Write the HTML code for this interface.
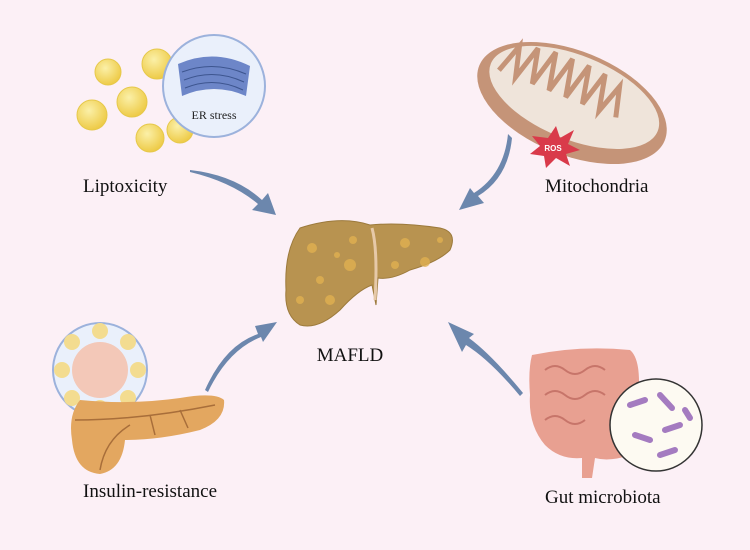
<!DOCTYPE html>
<html><head><style>body{margin:0;background:#fcf0f6}svg{display:block}</style></head><body>
<svg width="750" height="550" viewBox="0 0 750 550" xmlns="http://www.w3.org/2000/svg">
<rect width="750" height="550" fill="#fcf0f6"/>
<defs>
<radialGradient id="fat" cx="40%" cy="35%" r="70%"><stop offset="0" stop-color="#fbf0a8"/><stop offset="1" stop-color="#edc840"/></radialGradient>
</defs>
<!-- fat droplets -->
<g stroke="#e6c84a" stroke-width="1">
<circle cx="108" cy="72" r="13" fill="url(#fat)"/>
<circle cx="157" cy="64" r="15" fill="url(#fat)"/>
<circle cx="92" cy="115" r="15" fill="url(#fat)"/>
<circle cx="132" cy="102" r="15" fill="url(#fat)"/>
<circle cx="150" cy="138" r="14" fill="url(#fat)"/>
<circle cx="180" cy="130" r="13" fill="url(#fat)"/>
</g>
<circle cx="214" cy="86" r="51" fill="#eaf0fb" stroke="#9cb2dc" stroke-width="2"/>
<path d="M178 64 Q214 48 250 66 L246 96 Q214 82 182 96Z" fill="#6d86c8"/>
<path d="M182 72 Q214 60 246 74 M184 80 Q214 68 244 82 M185 88 Q214 76 243 90" stroke="#3d558f" fill="none"/>
<text x="214" y="119" font-family="Liberation Serif,serif" font-size="12" text-anchor="middle" fill="#222">ER stress</text>
<!-- mitochondria -->
<g transform="rotate(22 572 103)">
<ellipse cx="572" cy="103" rx="100" ry="52" fill="#c59478"/>
<ellipse cx="572" cy="97" rx="90" ry="42" fill="#efe4da"/>
<path d="M492 100 l10 -30 l8 30 l10 -35 l8 35 l10 -38 l8 38 l10 -38 l8 38 l10 -38 l8 38 l10 -36 l8 36 l10 -30 l8 30" stroke="#c59478" stroke-width="5" fill="none"/>
</g>
<polygon points="548,138 556,126 560,138 574,130 568,144 580,150 566,154 570,166 556,158 546,168 544,156 530,154 540,146 532,136" fill="#d93a4a"/>
<text x="553" y="151" font-family="Liberation Sans,sans-serif" font-size="8" font-weight="bold" fill="#fff" text-anchor="middle">ROS</text>
<!-- arrows -->
<g fill="#6c87ad">
<path d="M190 170 Q235 175 262 200 L268 193 L276 215 L252 210 L258 204 Q232 182 190 172Z"/>
<path d="M512 138 Q508 178 478 196 L484 203 L459 210 L470 188 L474 193 Q504 174 508 134Z"/>
<path d="M205 390 Q225 345 258 334 L255 326 L277 322 L263 342 L261 337 Q228 350 208 392Z"/>
<path d="M520 396 Q490 360 466 345 L462 352 L448 322 L474 334 L469 338 Q492 355 523 393Z"/>
</g>
<!-- liver -->
<path d="M300 228 Q340 215 370 225 Q400 222 440 228 Q458 232 450 250 Q438 262 410 270 Q392 280 378 278 L376 305 L372 285 Q358 290 340 310 Q318 330 300 325 Q284 315 286 290 Q284 250 300 228Z" fill="#b89350" stroke="#9c7a3c"/>
<path d="M372 228 Q378 250 375 300" stroke="#e6c9a8" stroke-width="3" fill="none"/>
<g fill="#e0b050" opacity="0.8">
<circle cx="312" cy="248" r="5"/><circle cx="350" cy="265" r="6"/><circle cx="320" cy="280" r="4"/><circle cx="353" cy="240" r="4"/><circle cx="330" cy="300" r="5"/><circle cx="405" cy="243" r="5"/><circle cx="425" cy="262" r="5"/><circle cx="395" cy="265" r="4"/><circle cx="337" cy="255" r="3"/><circle cx="300" cy="300" r="4"/><circle cx="440" cy="240" r="3"/>
</g>
<!-- pancreas -->
<circle cx="100" cy="370" r="47" fill="#eaf0fb" stroke="#9cb2dc" stroke-width="2"/>
<circle cx="100" cy="370" r="28" fill="#f3c8b8"/>
<g fill="#f3dc90"><circle cx="100" cy="331" r="8"/><circle cx="128" cy="342" r="8"/><circle cx="138" cy="370" r="8"/><circle cx="128" cy="398" r="8"/><circle cx="100" cy="408" r="8"/><circle cx="72" cy="398" r="8"/><circle cx="62" cy="370" r="8"/><circle cx="72" cy="342" r="8"/></g>
<path d="M80 400 Q130 405 180 398 Q215 392 224 400 Q226 420 200 430 Q160 440 125 440 Q122 470 100 474 Q75 472 72 440 Q68 415 80 400Z" fill="#e3a760"/>
<path d="M75 420 Q140 420 215 405 M100 470 Q105 440 130 425 M150 415 l5 20 M180 410 l8 18" stroke="#a86e3a" stroke-width="1.5" fill="none"/>
<!-- gut -->
<path d="M532 355 Q580 345 630 350 Q642 360 638 400 Q640 440 630 455 Q610 462 595 458 L592 478 L582 478 L582 458 Q560 460 545 445 Q528 425 530 395 Q528 370 532 355Z" fill="#e8a091"/>
<path d="M545 370 q10 -8 20 0 q10 8 20 0 q10 -8 20 0 M545 395 q10 -8 20 0 q10 8 20 0 q10 -8 20 0 M545 420 q10 -8 20 0 q10 8 20 0" stroke="#c7756a" stroke-width="2" fill="none"/>
<circle cx="656" cy="425" r="46" fill="#fdfaf2" stroke="#333" stroke-width="1.5"/>
<g stroke="#a47bc0" stroke-width="6" stroke-linecap="round"><line x1="630" y1="405" x2="645" y2="400"/><line x1="660" y1="395" x2="672" y2="408"/><line x1="635" y1="435" x2="650" y2="440"/><line x1="665" y1="430" x2="680" y2="425"/><line x1="660" y1="455" x2="675" y2="450"/><line x1="685" y1="410" x2="690" y2="418"/></g>
<!-- labels -->
<g font-family="Liberation Serif,serif" font-size="19" fill="#111">
<text x="83" y="192">Liptoxicity</text>
<text x="545" y="192">Mitochondria</text>
<text x="350" y="361" text-anchor="middle">MAFLD</text>
<text x="83" y="497">Insulin-resistance</text>
<text x="545" y="503">Gut microbiota</text>
</g>
</svg>
</body></html>
